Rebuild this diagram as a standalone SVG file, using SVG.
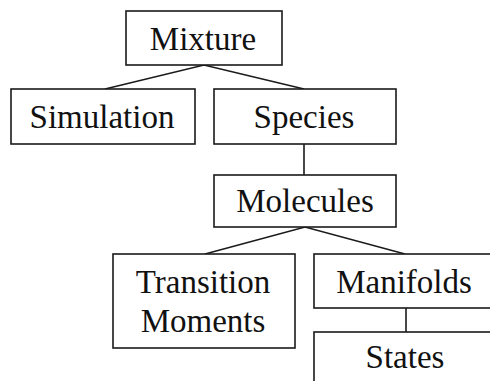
<svg xmlns="http://www.w3.org/2000/svg" width="490" height="381" viewBox="0 0 490 381">
  <style>
    .box { fill: #ffffff; stroke: #1a1a1a; stroke-width: 1.6; }
    .edge { fill: none; stroke: #1a1a1a; stroke-width: 1.6; }
    .label { font-family: "Liberation Serif", "Times New Roman", serif; font-size: 33px; fill: #111111; text-anchor: middle; }
  </style>
  <rect width="490" height="381" fill="#ffffff"/>

  <g id="connectors">
    <polyline class="edge" points="105,89 204,65 304,89"/>
    <line class="edge" x1="304" y1="144" x2="304" y2="175"/>
    <polyline class="edge" points="205,254 305,227 405,254"/>
    <line class="edge" x1="406" y1="308" x2="406" y2="332"/>
  </g>

  <g id="mixture">
    <rect class="box" x="126" y="11" width="156" height="54"/>
    <text class="label" x="203" y="50">Mixture</text>
  </g>
  <g id="simulation">
    <rect class="box" x="11" y="89" width="184" height="55"/>
    <text class="label" x="102" y="128">Simulation</text>
  </g>
  <g id="species">
    <rect class="box" x="214" y="89" width="182" height="55"/>
    <text class="label" x="304" y="128">Species</text>
  </g>
  <g id="molecules">
    <rect class="box" x="214" y="175" width="182" height="52"/>
    <text class="label" x="305" y="212">Molecules</text>
  </g>
  <g id="transition-moments">
    <rect class="box" x="113" y="254" width="182" height="94"/>
    <text class="label" x="203" y="293">Transition</text>
    <text class="label" x="203" y="332">Moments</text>
  </g>
  <g id="manifolds">
    <rect class="box" x="314" y="254" width="190" height="54"/>
    <text class="label" x="404" y="293">Manifolds</text>
  </g>
  <g id="states">
    <rect class="box" x="314" y="332" width="190" height="70"/>
    <text class="label" x="405" y="368">States</text>
  </g>
</svg>
